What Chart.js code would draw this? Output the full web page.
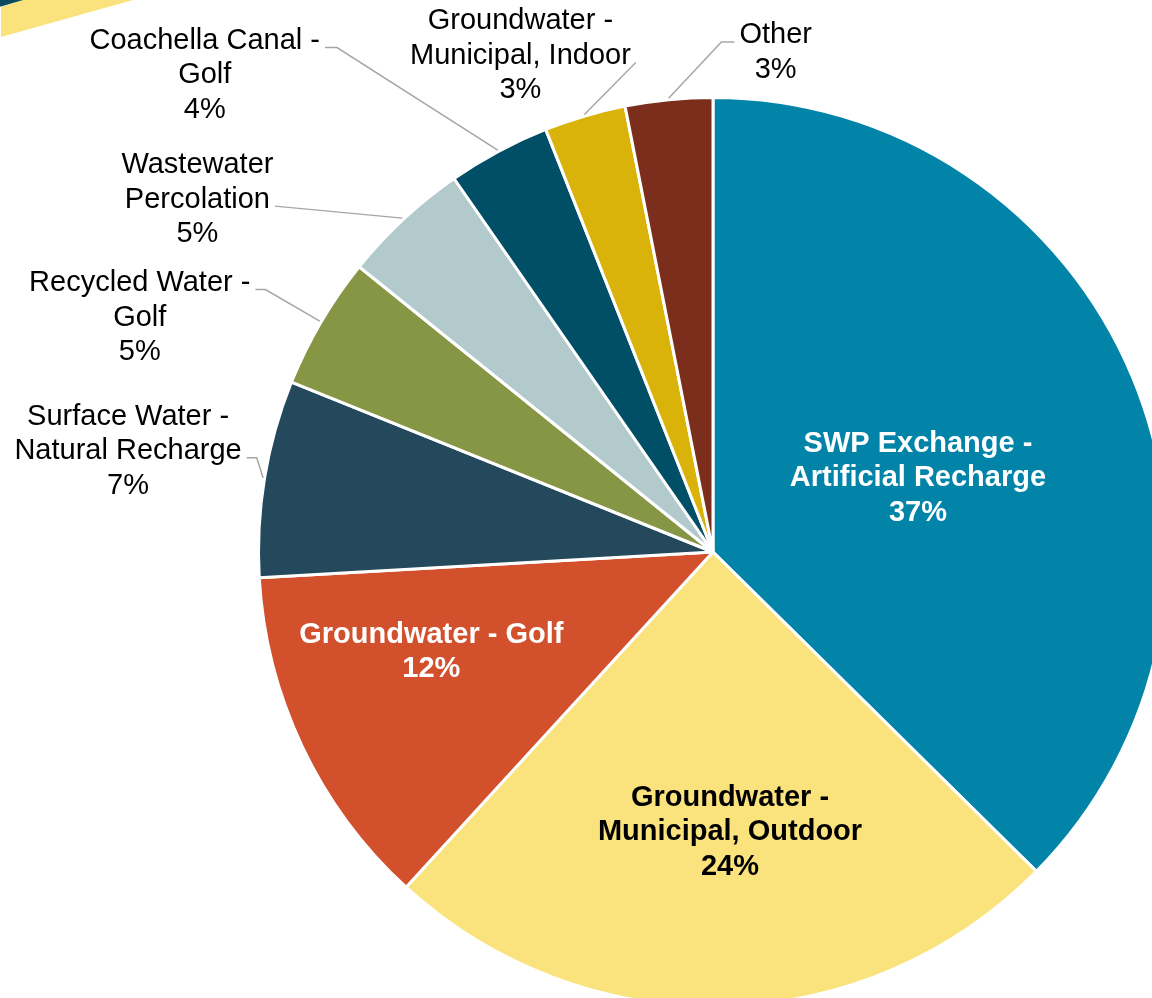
<!DOCTYPE html>
<html>
<head>
<meta charset="utf-8">
<title>Water Supply Sources</title>
<script src="https://cdn.jsdelivr.net/npm/chart.js@4/dist/chart.umd.min.js"></script>
<style>
  html, body { margin: 0; padding: 0; background: #fff; overflow: hidden; }
  #wrap { position: absolute; left: 0; top: 0; width: 1200px; height: 1040px; }
</style>
</head>
<body>
<div id="wrap"><canvas id="supplyChart" width="1200" height="1040"></canvas></div>
<script>
// Data
const sources = [
  ["SWP Exchange -", "Artificial Recharge"],
  ["Groundwater -", "Municipal, Outdoor"],
  ["Groundwater - Golf"],
  ["Surface Water -", "Natural Recharge"],
  ["Recycled Water -", "Golf"],
  ["Wastewater", "Percolation"],
  ["Coachella Canal -", "Golf"],
  ["Groundwater -", "Municipal, Indoor"],
  ["Other"]
];
const shares = [37.4, 24.4, 12.3, 7.0, 4.7, 4.55, 3.65, 2.9, 3.1];

// Colors
const sliceColors = ["#0284A8", "#FAE37C", "#D2502C", "#24495C", "#879645", "#B3CACD", "#004F66", "#DAB30A", "#7C2E1C"];

// Label placement: inside labels sit along the slice middle (r = fraction of radius),
// outside labels are offset from the slice's outer midpoint and get a leader line
const labelPlacement = [
  { inside: true, r: 0.48, nudge: [3, 8], color: "#ffffff" },
  { inside: true, r: 0.61, nudge: [10, 0], color: "#000000" },
  { inside: true, r: 0.657, nudge: [-11, -31], color: "#ffffff" },
  { offset: [-135, -29], line: 1, end: "right", elbow: 10 },
  { offset: [-180, -6], line: 0, end: "right", elbow: 10 },
  { offset: [-205, -21], line: 1, end: "right", elbow: 0 },
  { offset: [-293, -77], line: 0, end: "right", elbow: 12 },
  { offset: [-64, -61], line: 1, end: "right", elbow: 0 },
  { offset: [107, -48], line: 0, end: "left", elbow: 13 }
];

const FONT_FAMILY = "'Liberation Sans', Arial, sans-serif";
const FONT_SIZE = 29;
const LINE_HEIGHT = 34.5;
const CAP_HALF = 10.4;

const total = shares.reduce((a, b) => a + b, 0);
const percentText = (v) => Math.round(v / total * 100) + "%";

// Corner banner stripes
const bannerPlugin = {
  id: "banner",
  beforeDraw(chart) {
    const ctx = chart.ctx;
    ctx.save();
    ctx.fillStyle = "#FAE37C";
    ctx.beginPath();
    ctx.moveTo(22, 0);
    ctx.lineTo(133, 0);
    ctx.lineTo(1, 37);
    ctx.lineTo(1, 7);
    ctx.closePath();
    ctx.fill();
    ctx.fillStyle = "#0B4A5E";
    ctx.beginPath();
    ctx.moveTo(0, 0);
    ctx.lineTo(23, 0);
    ctx.lineTo(1, 6.5);
    ctx.lineTo(0, 6.5);
    ctx.closePath();
    ctx.fill();
    ctx.restore();
  }
};

// Draws the category/percent labels and the leader lines
const sliceLabels = {
  id: "sliceLabels",
  afterDatasetsDraw(chart) {
    const ctx = chart.ctx;
    const arcs = chart.getDatasetMeta(0).data;
    ctx.save();
    arcs.forEach((arc, i) => {
      const place = labelPlacement[i];
      const lines = sources[i].concat([percentText(shares[i])]);
      const mid = (arc.startAngle + arc.endAngle) / 2;
      const R = arc.outerRadius + 1.5;
      let cx, cy;

      if (place.inside) {
        cx = arc.x + Math.cos(mid) * R * place.r + place.nudge[0];
        cy = arc.y + Math.sin(mid) * R * place.r + place.nudge[1];
        ctx.font = "bold " + FONT_SIZE + "px " + FONT_FAMILY;
        ctx.fillStyle = place.color;
      } else {
        const px = arc.x + Math.cos(mid) * R;
        const py = arc.y + Math.sin(mid) * R;
        cx = px + place.offset[0];
        cy = py + place.offset[1];
        ctx.font = FONT_SIZE + "px " + FONT_FAMILY;

        // leader line
        const lineY = cy + (place.line - (lines.length - 1) / 2) * LINE_HEIGHT + 9;
        const w = ctx.measureText(lines[place.line]).width;
        let ax, ex;
        if (place.end === "right") {
          ax = cx + w / 2 + 5;
          ex = ax + place.elbow;
        } else {
          ax = cx - w / 2 - 5;
          ex = ax - place.elbow;
        }
        ctx.strokeStyle = "#A6A6A6";
        ctx.lineWidth = 1.5;
        ctx.beginPath();
        ctx.moveTo(ax, lineY);
        ctx.lineTo(ex, lineY);
        ctx.lineTo(px, py);
        ctx.stroke();
        ctx.fillStyle = "#000000";
      }

      ctx.textAlign = "center";
      ctx.textBaseline = "alphabetic";
      lines.forEach((text, k) => {
        const y = cy + (k - (lines.length - 1) / 2) * LINE_HEIGHT + CAP_HALF;
        ctx.fillText(text, cx, y);
      });
    });
    ctx.restore();
  }
};

const setup = () => {
  const chartElement = document.getElementById("supplyChart").getContext("2d");
  new Chart(chartElement, {
    type: "pie",
    data: {
      labels: sources.map((s) => s.join(" ")),
      datasets: [{
        data: shares,
        backgroundColor: sliceColors,
        borderColor: "#ffffff",
        borderWidth: 3
      }]
    },
    options: {
      responsive: false,
      animation: false,
      layout: {
        padding: { left: 257, top: 96, right: 31, bottom: 32 }
      },
      plugins: {
        legend: { display: false },
        tooltip: { enabled: false }
      }
    },
    plugins: [bannerPlugin, sliceLabels]
  });
};

window.addEventListener("load", setup);
</script>
</body>
</html>
